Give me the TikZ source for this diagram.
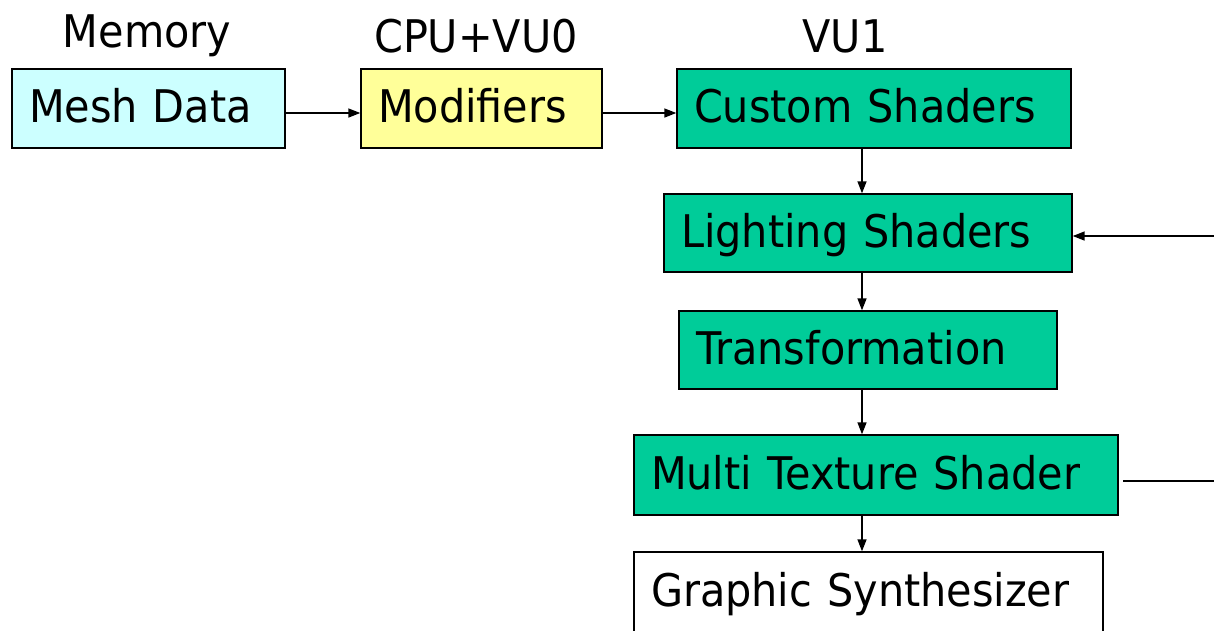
\documentclass[tikz,border=0pt]{standalone}
\usepackage{fontspec}
\setmainfont[FakeStretch=0.92]{DejaVu Sans}
\usepackage{tikz}
\usetikzlibrary{arrows.meta}

\definecolor{memcyan}{HTML}{CCFFFF}
\definecolor{cpuyellow}{HTML}{FFFF99}
\definecolor{vugreen}{HTML}{00CC99}

\begin{document}
\begin{tikzpicture}[>={Triangle[length=0.24cm,width=0.18cm]}, line width=0.9pt,
  every node/.style={font=\fontsize{25.6}{30}\selectfont},
  stage/.style={draw, line width=0.8pt, minimum height=1.58cm, inner xsep=0.34cm,
                text width=#1, align=left, text height=18pt, text depth=2pt}]
  \clip (0,0) rectangle (24.28,-12.6);
  % Unit headings
  \node (hmem) at (2.94,-0.72)  {Memory};
  \node (hcpu) at (9.52,-0.72)  {CPU+VU0};
  \node (hvu)  at (16.90,-0.72) {VU1};
  % Top row
  \node[stage=4.78cm, fill=memcyan]   (meshdata)  at (2.97,-2.17)  {Mesh Data};
  \node[stage=4.14cm, fill=cpuyellow] (modifiers) at (9.63,-2.17)  {Modifiers};
  \node[stage=7.20cm, fill=vugreen]   (custom)    at (17.48,-2.17) {Custom Shaders};
  % VU1 column
  \node[stage=7.48cm, fill=vugreen, minimum height=1.56cm] (lighting)  at (17.36,-4.66) {Lighting Shaders};
  \node[stage=6.88cm, fill=vugreen, minimum height=1.56cm] (transform) at (17.36,-7.00) {Transformation};
  \node[stage=9.00cm, fill=vugreen, minimum height=1.60cm] (multitex)  at (17.52,-9.50) {Multi Texture Shader};
  \node[stage=8.70cm, fill=white,   minimum height=1.62cm] (gs)        at (17.37,-11.85) {Graphic Synthesizer};
  % Helper points: shared vertical and off-page ends
  \coordinate (spine)  at (17.24,0);
  \coordinate (inlet)  at (24.28,-4.72);
  \coordinate (outlet) at (24.28,-9.62);
  % Horizontal flow
  \draw[->] ([yshift=-0.09cm]meshdata.east) -- ([yshift=-0.09cm]modifiers.west);
  \draw[->] ([yshift=-0.09cm]modifiers.east) -- ([yshift=-0.09cm]custom.west);
  % Downward flow
  \draw[->] (custom.south -| spine)    -- (lighting.north -| spine);
  \draw[->] (lighting.south -| spine)  -- (transform.north -| spine);
  \draw[->] (transform.south -| spine) -- (multitex.north -| spine);
  \draw[->] (multitex.south -| spine)  -- (gs.north -| spine);
  % Loop back from the right
  \draw[->] (inlet) -- (inlet -| lighting.east);
  \draw[shorten >=0.08cm] (outlet) -- (outlet -| multitex.east);
\end{tikzpicture}
\end{document}
